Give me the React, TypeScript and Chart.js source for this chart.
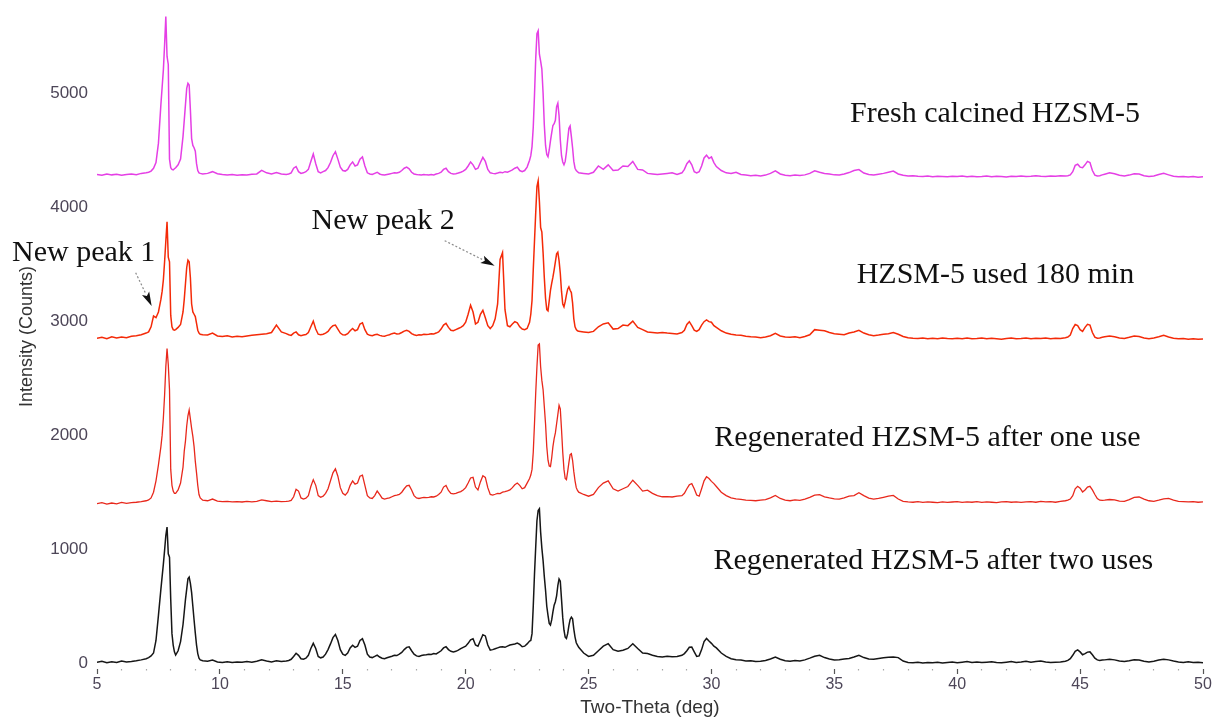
import React, { useEffect, useRef } from "react";
import { Chart, registerables } from "chart.js";

Chart.register(...registerables);

// ---- Data -----------------------------------------------------------------
const twoTheta = [
  5.0, 5.2, 5.4, 5.6, 5.8, 6.0, 6.2, 6.4, 6.6, 6.8, 7.0,
  7.1, 7.2, 7.3, 7.4, 7.5, 7.6, 7.65, 7.7, 7.75, 7.8, 7.85, 7.9, 7.95, 8.0, 8.05, 8.1, 8.15, 8.2, 8.3, 8.4, 8.5, 8.55, 8.6, 8.65, 8.7, 8.75, 8.8, 8.85, 8.9, 8.95, 9.0, 9.05, 9.1, 9.15, 9.2, 9.3,
  9.5, 9.7, 9.9, 10.1, 10.3, 10.5, 10.7, 10.9, 11.1, 11.3, 11.5, 11.7, 11.9, 12.1, 12.3, 12.5, 12.7,
  12.8, 12.9, 13.0, 13.1, 13.2, 13.3, 13.4, 13.5, 13.6, 13.7, 13.8, 13.9, 14.0, 14.1, 14.2, 14.3, 14.4, 14.5, 14.6, 14.7, 14.8, 14.9, 15.0, 15.1, 15.2, 15.3, 15.4, 15.5, 15.6, 15.7, 15.8, 15.9, 16.0, 16.1, 16.2, 16.3, 16.4, 16.5, 16.6, 16.7, 16.8, 16.9, 17.0, 17.1, 17.2, 17.3, 17.4, 17.5, 17.6, 17.7, 17.8, 17.9, 18.0, 18.1, 18.2, 18.3, 18.4,
  18.5, 18.6, 18.7, 18.8, 18.9, 19.0, 19.1, 19.2, 19.3, 19.4, 19.5, 19.6, 19.7, 19.8, 19.9, 20.0, 20.1, 20.2, 20.3, 20.4, 20.5, 20.6, 20.7, 20.8, 20.9, 21.0, 21.1, 21.2, 21.3, 21.4, 21.5, 21.6, 21.7, 21.8, 21.9, 22.0, 22.1, 22.2, 22.3, 22.4, 22.5, 22.6,
  22.65, 22.7, 22.75, 22.8, 22.85, 22.9, 22.95, 23.0, 23.05, 23.1, 23.15, 23.2, 23.25, 23.3, 23.35, 23.4, 23.45, 23.5, 23.55, 23.6, 23.65, 23.7, 23.75, 23.8, 23.85, 23.9, 23.95, 24.0, 24.05, 24.1, 24.15, 24.2, 24.25, 24.3, 24.35, 24.4, 24.45, 24.5, 24.55, 24.6,
  24.8, 25.0, 25.2, 25.4, 25.6, 25.8, 26.0, 26.2, 26.4, 26.6, 26.8, 27.0, 27.2, 27.4, 27.6, 27.8, 28.0, 28.2, 28.4, 28.6, 28.8, 28.9, 29.0, 29.1, 29.2, 29.3, 29.4, 29.5, 29.6, 29.7, 29.8, 29.9, 30.0, 30.1, 30.2, 30.4, 30.6, 30.8, 31.0,
  31.2, 31.4, 31.6, 31.8, 32.0, 32.2, 32.4, 32.6, 32.8, 33.0, 33.2, 33.4, 33.6, 33.8, 34.0, 34.2, 34.4, 34.6, 34.8, 35.0, 35.2, 35.4, 35.6, 35.8, 36.0, 36.2, 36.4, 36.6, 36.8, 37.0, 37.2, 37.4, 37.6, 37.8, 38.0, 38.2, 38.4, 38.6, 38.8, 39.0, 39.2, 39.4, 39.6, 39.8, 40.0, 40.2, 40.4, 40.6, 40.8, 41.0, 41.2, 41.4, 41.6, 41.8, 42.0, 42.2, 42.4, 42.6, 42.8, 43.0, 43.2, 43.4, 43.6, 43.8, 44.0, 44.2, 44.4,
  44.5, 44.6, 44.7, 44.8, 44.9, 45.0, 45.1, 45.2, 45.3, 45.4, 45.5, 45.6, 45.7, 45.8, 45.9, 46.0,
  46.2, 46.4, 46.6, 46.8, 47.0, 47.2, 47.4, 47.6, 47.8, 48.0, 48.2, 48.4, 48.6, 48.8, 49.0, 49.2, 49.4, 49.6, 49.8, 50.0,
];

const freshCalcined = [
  4285, 4278, 4290, 4282, 4287, 4279, 4286, 4290, 4283, 4295, 4300,
  4305, 4315, 4340, 4390, 4560, 4900, 5050, 5200, 5420, 5670, 5320, 5250, 4420, 4345, 4330, 4325, 4335, 4345, 4370, 4420, 4620, 4760, 4900, 5040, 5085, 5070, 4850, 4600, 4540, 4520, 4490, 4380, 4320, 4300, 4295, 4290,
  4295, 4310, 4292, 4285, 4280, 4285, 4278, 4282, 4280, 4288, 4290, 4322, 4300, 4290, 4302, 4290, 4285,
  4290, 4300, 4340, 4355, 4310, 4295, 4300, 4310, 4330, 4400, 4465, 4380, 4310, 4300, 4310, 4320, 4345, 4390, 4450, 4485, 4420, 4350, 4320, 4315, 4330, 4370, 4395, 4360, 4370, 4420, 4440, 4360, 4300, 4290, 4285, 4295, 4305, 4290, 4282, 4280, 4285, 4290, 4295, 4300, 4298, 4305, 4320, 4340, 4350, 4335, 4305, 4290, 4285, 4282, 4280, 4285, 4282,
  4280, 4285, 4282, 4290, 4295, 4305, 4330, 4340, 4310, 4295, 4290, 4292, 4298, 4305, 4315, 4330, 4360, 4395, 4370, 4330, 4340, 4390, 4435, 4400, 4330, 4300, 4295, 4292, 4298, 4305, 4300, 4310, 4305, 4315, 4325, 4340, 4350, 4320, 4310, 4320, 4350, 4410,
  4450, 4530, 4700, 4980, 5300, 5520, 5545, 5340, 5280, 5210, 5000, 4720, 4540, 4460, 4440, 4500, 4580, 4650, 4715, 4730, 4760, 4880, 4910, 4800, 4590, 4450, 4395, 4370, 4400, 4480, 4590, 4690, 4710, 4620, 4520, 4400, 4340, 4320, 4310, 4300,
  4295, 4290, 4305, 4360, 4330, 4370, 4320, 4325, 4360, 4355, 4400, 4330, 4325, 4295, 4290, 4285, 4290, 4295, 4300, 4285, 4300, 4330, 4380, 4405, 4370, 4310, 4300, 4310, 4360, 4430, 4455, 4425, 4440, 4390, 4355, 4320, 4300, 4295, 4305,
  4285, 4280, 4275, 4278, 4272, 4280, 4295, 4318, 4290, 4278, 4275, 4280, 4276, 4282, 4295, 4318, 4305, 4295, 4290, 4282, 4280, 4290, 4302, 4320, 4328, 4298, 4285, 4280, 4288, 4295, 4305, 4315, 4290, 4278, 4272, 4275, 4270, 4268, 4272, 4266, 4270, 4268, 4265, 4270, 4268, 4272, 4266, 4270, 4265, 4268, 4272, 4266, 4270, 4268, 4264, 4270, 4268, 4272, 4268, 4270, 4274, 4270, 4268, 4272, 4270, 4275, 4272,
  4275, 4282, 4310, 4365, 4375, 4350, 4345, 4370, 4400, 4390, 4320, 4280, 4272, 4275, 4282, 4288,
  4300, 4292, 4278, 4272, 4280, 4292, 4290, 4275, 4268, 4272, 4285, 4295, 4282, 4270, 4265, 4268, 4264, 4268, 4262, 4265,
];

const used180min = [
  2850, 2858, 2845, 2862, 2852, 2860, 2855, 2868, 2872, 2880, 2895,
  2905, 2950, 3045, 3030, 3080, 3190, 3260, 3360, 3520, 3700, 3870, 3560, 3520, 3050, 2950, 2925, 2920, 2925, 2945, 2970, 3080, 3190, 3330, 3470, 3535, 3520, 3380, 3150, 3080, 3060, 3040, 2980, 2920, 2895, 2885, 2880,
  2878, 2895, 2870, 2865, 2872, 2860, 2868, 2862, 2870, 2875, 2880, 2885, 2890, 2900, 2965, 2905, 2890,
  2880, 2875, 2895, 2905, 2880, 2872, 2878, 2882, 2900, 2950, 3000, 2930, 2885, 2880, 2885, 2895, 2910, 2940, 2960, 2965, 2930, 2895, 2880, 2878, 2890, 2915, 2935, 2915, 2925, 2975, 2985, 2925, 2885, 2875, 2872, 2880, 2885, 2875, 2870, 2868, 2875, 2880, 2890, 2895, 2888, 2890, 2900, 2912, 2920, 2910, 2890, 2880, 2875, 2880, 2878, 2885, 2882,
  2885, 2890, 2888, 2895, 2905, 2930, 2965, 2980, 2945, 2920, 2915, 2925, 2935, 2945, 2960, 2990, 3060, 3140, 3080, 2975, 2990, 3060, 3095, 3030, 2960, 2935, 2960, 3020, 3150, 3540, 3600, 3100, 2960, 2950, 2975, 2995, 2985, 2950, 2930, 2925, 2935, 2990,
  3060, 3180, 3450, 3700, 3950, 4180, 4230, 4050, 3820, 3780, 3600, 3380, 3200, 3100, 3090, 3180, 3270, 3330, 3385, 3450, 3520, 3590, 3605, 3530, 3420, 3260, 3150, 3125, 3170, 3230, 3280, 3300, 3270, 3250, 3160, 3020, 2950, 2925, 2915, 2910,
  2905, 2900, 2910, 2950, 2975, 2985, 2930, 2935, 2965, 2960, 3000, 2945, 2925, 2905, 2900, 2895, 2900, 2895, 2892, 2888, 2900, 2920, 2970, 2995, 2960, 2920, 2910, 2925, 2965, 2995, 3010, 2995, 2990, 2960, 2945, 2915, 2895, 2885, 2878,
  2875, 2868, 2862, 2860, 2855, 2860, 2872, 2892, 2870, 2860, 2858, 2862, 2855, 2865, 2880, 2925, 2920, 2915, 2900, 2890, 2885, 2880, 2895, 2905, 2920, 2895, 2880, 2872, 2878, 2885, 2890, 2900, 2885, 2865, 2855, 2850, 2848, 2852, 2845, 2850, 2846, 2852, 2848, 2845, 2850, 2846, 2852, 2845, 2848, 2852, 2845, 2850, 2846, 2842, 2848, 2852, 2845, 2848, 2852, 2846, 2850, 2848, 2852, 2846, 2850, 2848, 2855,
  2860, 2878, 2935, 2970, 2960, 2925, 2910, 2945, 2972, 2965, 2900, 2860, 2850, 2852, 2858, 2862,
  2870, 2862, 2852, 2848, 2858, 2870, 2865, 2852, 2846, 2852, 2862, 2875, 2860, 2850, 2845, 2848, 2842, 2846, 2840, 2842,
];

const regeneratedOnce = [
  1400, 1408, 1395, 1405, 1398, 1410, 1402, 1408, 1412, 1418, 1425,
  1432, 1450, 1500, 1600, 1740, 1900, 2000, 2150, 2350, 2600, 2760, 2620, 2400, 1700, 1560, 1510, 1490, 1490, 1520, 1580, 1720, 1860, 1950, 2080, 2170, 2220, 2140, 2060, 1990, 1900, 1770, 1670, 1560, 1480, 1450, 1430,
  1425, 1440, 1422, 1418, 1420, 1415, 1418, 1414, 1420, 1416, 1420, 1432, 1425, 1418, 1422, 1418, 1420,
  1422, 1428, 1460, 1525, 1510, 1450, 1440, 1448, 1470, 1550, 1610, 1560, 1470, 1455, 1465, 1490, 1530, 1600, 1670, 1705, 1640, 1540, 1490, 1475, 1500, 1560, 1598, 1570, 1580, 1640, 1650, 1560, 1470, 1450, 1445, 1470, 1510, 1480, 1448, 1440, 1445, 1450, 1460, 1470, 1474, 1480, 1500, 1530, 1555, 1560, 1520, 1470, 1450, 1445, 1450, 1455, 1452,
  1455, 1460, 1458, 1465, 1480, 1500, 1545, 1560, 1515, 1490, 1485, 1490, 1498, 1505, 1520, 1540, 1580, 1625, 1630, 1545, 1520, 1590, 1645, 1630, 1540, 1480, 1475, 1482, 1490, 1488, 1500, 1505, 1512, 1520, 1540, 1565, 1580, 1560, 1530, 1540, 1580, 1620,
  1650, 1700, 1850, 2100, 2370, 2600, 2790, 2800, 2600, 2480, 2400, 2250, 2100, 1900, 1780, 1730, 1725, 1800, 1900, 1970, 2020, 2100, 2180, 2262, 2230, 2050, 1850, 1700, 1620, 1610, 1680, 1760, 1830, 1838, 1780, 1680, 1600, 1540, 1515, 1500,
  1480, 1465, 1480, 1540, 1580, 1600, 1530, 1510, 1530, 1550, 1605, 1560, 1510, 1518, 1490, 1470, 1460, 1462, 1458, 1465, 1470, 1490, 1530, 1565, 1575, 1530, 1475, 1465, 1530, 1600, 1635, 1620, 1595, 1575, 1550, 1500, 1470, 1450, 1442,
  1438, 1430, 1428, 1425, 1430, 1435, 1450, 1472, 1445, 1430, 1425, 1432, 1428, 1440, 1455, 1475, 1478, 1460, 1450, 1442, 1440, 1450, 1465, 1470, 1495, 1470, 1448, 1440, 1445, 1455, 1465, 1472, 1440, 1420, 1415, 1412, 1418, 1410, 1415, 1412, 1408, 1415, 1410, 1414, 1418, 1410, 1415, 1412, 1418, 1410, 1415, 1412, 1408, 1415, 1418, 1412, 1416, 1410, 1415, 1418, 1412, 1420, 1415, 1418, 1412, 1420, 1425,
  1430, 1440, 1470, 1530, 1552, 1535, 1502, 1520, 1545, 1552, 1520, 1480, 1445, 1430, 1428, 1430,
  1436, 1432, 1422, 1420, 1435, 1455, 1458, 1440, 1425, 1420, 1430, 1442, 1445, 1430, 1420, 1418, 1415, 1418, 1412, 1415,
];

const regeneratedTwice = [
  10, 18, 5, 14, 8, 20, 12, 15, 22, 30, 40,
  50, 65, 90, 200, 420, 650, 760, 870, 990, 1120, 1195, 960, 930, 560, 260, 160, 100, 72, 110, 190, 340, 450, 560, 650, 740, 755, 700, 620, 500, 380, 265, 160, 85, 45, 30, 22,
  18, 28, 12, 8, 14, 6, 12, 9, 15, 10, 18, 30, 20, 12, 22, 16, 20,
  25, 35, 60, 88, 70, 40, 35, 45, 70, 130, 175, 130, 60, 48, 55, 80, 120, 170, 225, 252, 200, 120, 80, 70, 90, 135, 158, 140, 150, 200, 215, 160, 80, 55, 50, 60, 72, 55, 45, 40, 48, 55, 62, 70, 68, 80, 95, 120, 140, 145, 110, 80, 65, 60, 68, 72, 75,
  80, 78, 85, 82, 95, 110, 135, 145, 120, 105, 100, 105, 115, 128, 140, 150, 175, 205, 215, 160, 150, 200, 250, 240, 160, 115, 120, 128, 135, 142, 145, 140, 150, 160, 165, 170, 178, 165, 145, 150, 170, 195,
  200, 260, 500, 780, 1020, 1250, 1340, 1355, 1150, 1010, 900, 760, 640, 500, 420, 350, 335, 380, 450, 510, 540, 590, 680, 740, 720, 560, 400, 290, 230, 218, 260, 330, 385, 405, 390, 300, 230, 180, 160, 140,
  90, 60, 70, 110, 150, 172, 120, 105, 115, 130, 172, 130, 90, 85, 70, 60, 55, 62, 58, 60, 70, 85, 110, 140, 142, 100, 60, 65, 120, 190, 218, 195, 175, 150, 135, 90, 60, 40, 32,
  28, 20, 22, 15, 18, 25, 38, 55, 35, 22, 18, 25, 20, 30, 45, 62, 70, 50, 38, 30, 32, 38, 42, 55, 70, 50, 38, 35, 42, 48, 52, 56, 50, 20, 8, 5, 10, 2, 8, 4, 10, 3, 8, 12, 5, 10, 15, 8, 12, 6, 10, 14, 8, 5, 10, 15, 8, 12, 18, 10, 15, 20, 12, 8, 10, 12, 18,
  25, 40, 70, 105, 118, 100, 75, 85, 98, 100, 75, 45, 30, 25, 28, 30,
  35, 30, 20, 15, 22, 30, 28, 18, 12, 18, 28, 35, 30, 20, 12, 8, 14, 6, 10, 5,
];

const seriesLabels = [
  "Fresh calcined HZSM-5",
  "HZSM-5 used 180 min",
  "Regenerated HZSM-5 after one use",
  "Regenerated HZSM-5 after two uses",
];

const yTickValues = [0, 1000, 2000, 3000, 4000, 5000];
const xTickValues = [
  5, 6, 7, 8, 9, 10, 11, 12, 13, 14, 15, 16, 17, 18, 19, 20, 21, 22, 23, 24, 25, 26, 27,
  28, 29, 30, 31, 32, 33, 34, 35, 36, 37, 38, 39, 40, 41, 42, 43, 44, 45, 46, 47, 48, 49, 50,
];

// Annotation anchors, in data coordinates (two-theta, counts)
const textNotes = [
  { text: seriesLabels[0], theta: 35.64, counts: 4748 },
  { text: seriesLabels[1], theta: 35.91, counts: 3332 },
  { text: seriesLabels[2], theta: 30.11, counts: 1905 },
  { text: seriesLabels[3], theta: 30.08, counts: 824 },
  { text: "New peak 1", theta: 1.545, counts: 3527 },
  { text: "New peak 2", theta: 13.73, counts: 3805 },
];
const arrowNotes = [
  { fromTheta: 6.573, fromCounts: 3424, toTheta: 7.224, toCounts: 3133 },
  { fromTheta: 19.146, fromCounts: 3705, toTheta: 21.179, toCounts: 3486 },
];

// ---- Chart ----------------------------------------------------------------
const annotationPlugin = {
  id: "xrdAnnotations",
  afterDatasetsDraw(chart: any) {
    const { ctx } = chart;
    const xs = chart.scales.x;
    const ys = chart.scales.y;
    ctx.save();
    ctx.font = '30px "Liberation Serif", "Times New Roman", serif';
    ctx.fillStyle = "#111111";
    ctx.textAlign = "left";
    ctx.textBaseline = "alphabetic";
    textNotes.forEach((n) => {
      ctx.fillText(n.text, xs.getPixelForValue(n.theta), ys.getPixelForValue(n.counts));
    });
    arrowNotes.forEach((a) => {
      const x1 = xs.getPixelForValue(a.fromTheta);
      const y1 = ys.getPixelForValue(a.fromCounts);
      const x2 = xs.getPixelForValue(a.toTheta);
      const y2 = ys.getPixelForValue(a.toCounts);
      const ang = Math.atan2(y2 - y1, x2 - x1);
      const headLen = 14;
      const headHalf = 4;
      const bx = x2 - headLen * Math.cos(ang);
      const by = y2 - headLen * Math.sin(ang);
      ctx.beginPath();
      ctx.setLineDash([2, 2]);
      ctx.strokeStyle = "#8a8a8a";
      ctx.lineWidth = 1.2;
      ctx.moveTo(x1, y1);
      ctx.lineTo(bx, by);
      ctx.stroke();
      ctx.setLineDash([]);
      ctx.beginPath();
      ctx.fillStyle = "#111111";
      ctx.moveTo(x2, y2);
      ctx.lineTo(bx + headHalf * Math.sin(ang), by - headHalf * Math.cos(ang));
      ctx.lineTo(bx + 3 * Math.cos(ang), by + 3 * Math.sin(ang));
      ctx.lineTo(bx - headHalf * Math.sin(ang), by + headHalf * Math.cos(ang));
      ctx.closePath();
      ctx.fill();
    });
    ctx.restore();
  },
};

const toPoints = (vals: number[]) =>
  twoTheta.map((t, i) => ({ x: t, y: vals[i] })).filter((p) => p.y !== undefined);

export default function App() {
  const canvasRef = useRef<HTMLCanvasElement | null>(null);

  useEffect(() => {
    if (!canvasRef.current) return;
    const tickColor = "#4d4658";
    const chart = new Chart(canvasRef.current, {
      type: "line",
      data: {
        datasets: [
          { label: seriesLabels[0], data: toPoints(freshCalcined), borderColor: "#e53fe5", borderWidth: 1.5 },
          { label: seriesLabels[1], data: toPoints(used180min), borderColor: "#f42a08", borderWidth: 1.5 },
          { label: seriesLabels[2], data: toPoints(regeneratedOnce), borderColor: "#e8281c", borderWidth: 1.3 },
          { label: seriesLabels[3], data: toPoints(regeneratedTwice), borderColor: "#161616", borderWidth: 1.5 },
        ].map((d) => ({ ...d, pointRadius: 0, tension: 0, fill: false })),
      },
      options: {
        animation: false,
        responsive: false,
        devicePixelRatio: 1,
        layout: { padding: { top: 4, right: 9, left: 0, bottom: 0 } },
        plugins: { legend: { display: false }, tooltip: { enabled: false } },
        scales: {
          x: {
            type: "linear",
            min: 5,
            max: 50,
            afterBuildTicks: (s: any) => {
              s.ticks = xTickValues.map((v) => ({ value: v }));
            },
            afterFit: (s: any) => {
              s.height = 48;
              s.paddingLeft = 0;
              s.paddingRight = 0;
            },
            border: { display: false },
            grid: {
              display: true,
              drawOnChartArea: false,
              drawTicks: true,
              tickLength: 5,
              tickWidth: 1.2,
              tickColor: (c: any) => (c.tick && c.tick.value % 5 === 0 ? "#555555" : "#a8a8a8"),
              tickBorderDash: (c: any) => (c.tick && c.tick.value % 5 === 0 ? [] : [1.5, 20]),
            },
            ticks: {
              autoSkip: false,
              maxRotation: 0,
              padding: 1,
              color: tickColor,
              font: { family: '"Liberation Sans", Arial, sans-serif', size: 16 },
              callback: (v: any) => (Number(v) % 5 === 0 ? String(v) : ""),
            },
            title: {
              display: true,
              text: "Two-Theta (deg)",
              color: "#333333",
              font: { family: '"Liberation Sans", Arial, sans-serif', size: 19 },
              padding: { top: 0, bottom: -2 },
            },
          },
          y: {
            type: "linear",
            min: -50,
            max: 5780,
            afterBuildTicks: (s: any) => {
              s.ticks = yTickValues.map((v) => ({ value: v }));
            },
            afterFit: (s: any) => {
              s.width = 97;
              s.paddingTop = 0;
              s.paddingBottom = 0;
            },
            border: { display: false },
            grid: { display: false, drawTicks: false },
            ticks: {
              padding: 9,
              color: tickColor,
              font: { family: '"Liberation Sans", Arial, sans-serif', size: 17 },
              callback: (v: any) => String(v),
            },
            title: {
              display: true,
              text: "Intensity (Counts)",
              color: "#333333",
              font: { family: '"Liberation Sans", Arial, sans-serif', size: 18 },
              padding: { top: 16, bottom: 0 },
            },
          },
        },
      },
      plugins: [annotationPlugin],
    } as any);
    return () => chart.destroy();
  }, []);

  return (
    <div style={{ position: "absolute", left: 0, top: 0, width: 1212, height: 717, background: "#ffffff" }}>
      <canvas ref={canvasRef} width={1212} height={717} style={{ display: "block" }} />
    </div>
  );
}
